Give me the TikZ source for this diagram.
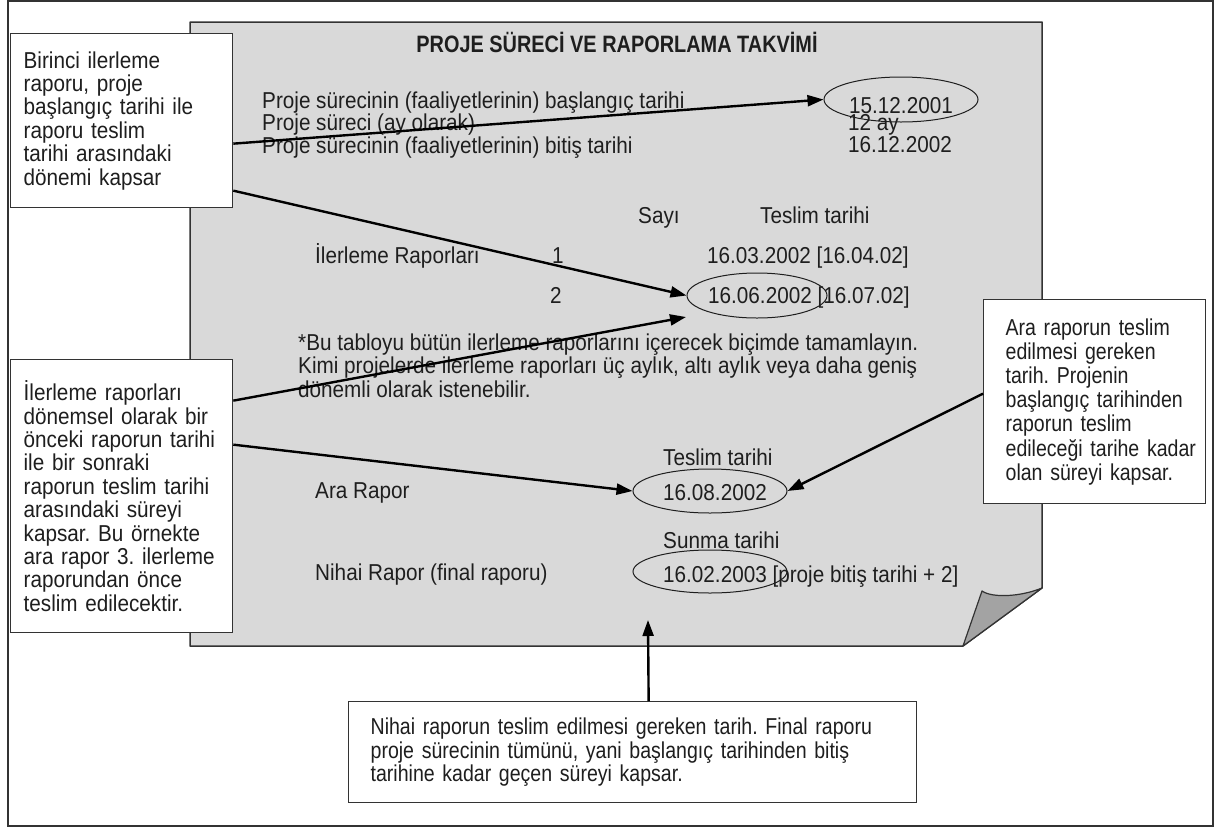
\documentclass[tikz,border=0pt]{standalone}
\usepackage{fontspec}
\setmainfont{Liberation Sans}[FakeStretch=0.9]
\newfontfamily\titlefont{Liberation Sans}[FakeStretch=0.84]
\newfontfamily\narrowfont{Liberation Sans}[FakeStretch=0.85]
\usetikzlibrary{arrows.meta,shapes.geometric}
\definecolor{paper}{HTML}{D9D9D9}
\definecolor{foldc}{HTML}{A3A3A3}
\definecolor{edge}{HTML}{333333}
\definecolor{ink}{HTML}{1E1E1E}
\frenchspacing
\hyphenpenalty=10000
\exhyphenpenalty=10000
\begin{document}
\begin{tikzpicture}[x=1pt,y=-1pt,
  txt/.style={inner sep=0pt, anchor=base west, text=ink, font=\fontsize{23}{23}\selectfont},
  callout/.style={draw=edge, line width=1.3pt, fill=white, anchor=north west, align=left,
    inner ysep=0pt, text=ink, font=\fontsize{23}{23.4}\selectfont},
  ring/.style={draw=ink, line width=1pt, ellipse, inner sep=0pt},
  pointer/.style={draw=black, line width=2.4pt, -{Triangle[length=16pt,width=11pt]}},
]
\useasboundingbox (0,0) rectangle (1216,828);
% outer frame
\draw[edge, line width=1.5pt] (8,1) rectangle (1213,826);
% paper sheet with folded corner
\draw[edge, line width=1.5pt, fill=paper, line join=round]
  (190,22) -- (1042,22) -- (1042,588) -- (963,646) -- (190,646) -- cycle;
\draw[edge, line width=1.2pt, fill=foldc, line join=round]
  (963,646) -- (982,591) .. controls (992,598) and (1020,597) .. (1042,588) -- cycle;

% title
\node[inner sep=0pt, anchor=base, text=ink, font=\titlefont\bfseries\fontsize{23.7}{24}\selectfont]
  (title) at (617,52) {PROJE SÜRECİ VE RAPORLAMA TAKVİMİ};

% project lines (anchor = baseline of the last line)
\node[txt, align=left, font=\fontsize{23}{19}\selectfont] (lines) at (262,153)
  {Proje sürecinin (faaliyetlerinin) başlangıç tarihi\\Proje süreci (ay olarak)\\Proje sürecinin (faaliyetlerinin) bitiş tarihi};
\node[ring, minimum width=154pt, minimum height=45pt, text=ink, font=\fontsize{23}{23}\selectfont,
  text height=27pt, text depth=0pt] (e1) at (901,99.5) {15.12.2001};
\node[txt, align=left, font=\fontsize{23}{19}\selectfont] (vals) at (848,152)
  {12 ay\\16.12.2002};

% table
\node[txt] (say) at (638,223) {Sayı};
\node[txt] (tes) at (760,223) {Teslim tarihi};
\node[txt] (ir) at (315,263) {İlerleme Raporları};
\node[txt] (n1) at (552,263) {1};
\node[txt] (d1) at (707,263) {16.03.2002 [16.04.02]};
\node[txt] (n2) at (550,303) {2};
\node[txt] (d2) at (708,303) {16.06.2002 [16.07.02]};

% footnote (anchor = baseline of the last line)
\node[txt, align=left, font=\fontsize{23}{23.2}\selectfont] (foot) at (298,397)
  {*Bu tabloyu bütün ilerleme raporlarını içerecek biçimde tamamlayın.\\Kimi projelerde ilerleme raporları üç aylık, altı aylık veya daha geniş\\dönemli olarak istenebilir.};

% interim / final
\node[txt] (ara) at (315,498) {Ara Rapor};
\node[txt] (t3) at (663,465) {Teslim tarihi};
\node[txt] (d3) at (663,500) {16.08.2002};
\node[txt] (nih) at (315,580) {Nihai Rapor (final raporu)};
\node[txt] (t4) at (663,548) {Sunma tarihi};
\node[txt] (d4) at (663,582) {16.02.2003 [proje bitiş tarihi + 2]};

% ellipses
\node[ring, minimum width=140pt, minimum height=45pt] (e2) at (757,295.5) {};
\node[ring, minimum width=154pt, minimum height=44pt] (e3) at (710,491) {};
\node[ring, minimum width=154pt, minimum height=43pt] (e4) at (710,571.5) {};

% callout boxes
\node[callout, inner xsep=13pt, text width=196pt, minimum width=222pt, minimum height=174pt]
  (b1) at (10,33) {\mbox{Birinci ilerleme}\\\mbox{raporu, proje}\\\mbox{başlangıç tarihi ile}\\\mbox{raporu teslim}\\\mbox{tarihi arasındaki}\\\mbox{dönemi kapsar}};
\node[callout, inner xsep=13pt, text width=196pt, minimum width=222pt, minimum height=273pt]
  (b2) at (10,359) {\mbox{İlerleme raporları}\\\mbox{dönemsel olarak bir}\\\mbox{önceki raporun tarihi}\\\mbox{ile bir sonraki}\\\mbox{raporun teslim tarihi}\\\mbox{arasındaki süreyi}\\\mbox{kapsar. Bu örnekte}\\\mbox{ara rapor 3. ilerleme}\\\mbox{raporundan önce}\\\mbox{teslim edilecektir.}};
\node[callout, inner xsep=22pt, text width=178pt, minimum width=222pt, minimum height=204pt,
  font=\narrowfont\fontsize{23}{24.2}\selectfont]
  (b3) at (983,299) {\mbox{Ara raporun teslim}\\\mbox{edilmesi gereken}\\\mbox{tarih. Projenin}\\\mbox{başlangıç tarihinden}\\\mbox{raporun teslim}\\\mbox{edileceği tarihe kadar}\\\mbox{olan süreyi kapsar.}};
\node[callout, inner xsep=22pt, text width=524pt, minimum width=568pt, minimum height=101pt,
  font=\narrowfont\fontsize{23}{23.5}\selectfont]
  (b4) at (348,701) {\mbox{Nihai raporun teslim edilmesi gereken tarih. Final raporu}\\\mbox{proje sürecinin tümünü, yani başlangıç tarihinden bitiş}\\\mbox{tarihine kadar geçen süreyi kapsar.}};

% connectors
\coordinate (p2) at (686,317);
\coordinate (p4) at (648,620);
\draw[pointer] ([yshift=-23pt]b1.east) -- (e1.west);
\draw[pointer] ([yshift=-70pt]b1.east) -- (e2.west);
\draw[pointer] ([yshift=95.5pt]b2.east) -- (p2);
\draw[pointer] ([yshift=51.5pt]b2.east) -- (e3.west);
\draw[pointer] ([yshift=8pt]b3.west) -- (e3.east);
\draw[pointer] ([xshift=16pt]b4.north) -- (p4);
\end{tikzpicture}
\end{document}
